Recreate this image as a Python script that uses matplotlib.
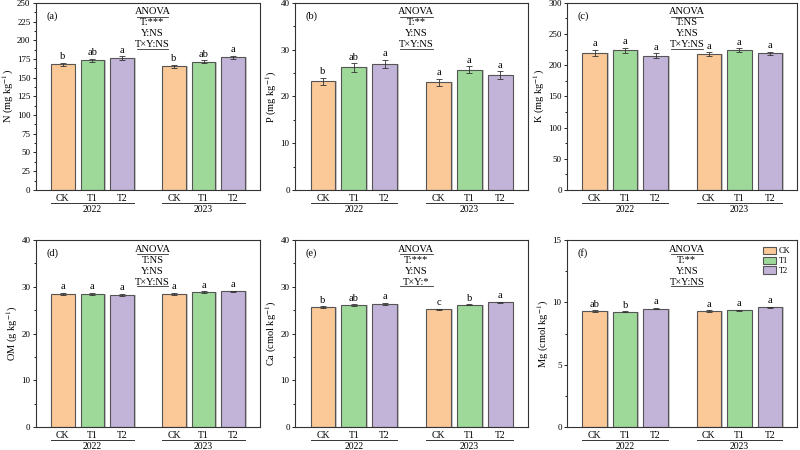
import numpy as np
import matplotlib.pyplot as plt
from matplotlib.lines import Line2D
import matplotlib.transforms as mtrans

plt.rcParams['font.family'] = ['Liberation Serif', 'DejaVu Serif']
plt.rcParams['mathtext.fontset'] = 'stix'

treatments = ['CK', 'T1', 'T2']
years = ['2022', '2023']
colors = ['#FBC898', '#9ED99A', '#C2B3D9']

panels = ['(a)', '(b)', '(c)', '(d)', '(e)', '(f)']
ylabels = ['N (mg kg$^{-1}$)', 'P (mg kg$^{-1}$)', 'K (mg kg$^{-1}$)',
           'OM (g kg$^{-1}$)', 'Ca (cmol kg$^{-1}$)', 'Mg (cmol kg$^{-1}$)']
ymax = [250, 40, 300, 40, 40, 15]
ystep = [25, 10, 50, 10, 10, 5]

# means: [CK, T1, T2] for 2022 then 2023
N_vals = [168, 173.5, 176, 165, 171, 177]
N_err = [2, 2, 2.5, 2.5, 2, 2.5]
P_vals = [23.2, 26.2, 26.9, 23.0, 25.7, 24.6]
P_err = [0.8, 0.9, 0.9, 0.8, 0.8, 0.8]
K_vals = [220, 224, 215, 218, 224, 219]
K_err = [5, 4, 4, 3, 3, 3]
OM_vals = [28.5, 28.5, 28.3, 28.5, 28.8, 29.0]
OM_err = [0.2, 0.2, 0.2, 0.2, 0.2, 0.2]
Ca_vals = [25.6, 26.1, 26.4, 25.2, 26.2, 26.7]
Ca_err = [0.2, 0.15, 0.2, 0.15, 0.1, 0.15]
Mg_vals = [9.3, 9.25, 9.5, 9.3, 9.35, 9.6]
Mg_err = [0.06, 0.05, 0.05, 0.05, 0.06, 0.05]

values = [N_vals, P_vals, K_vals, OM_vals, Ca_vals, Mg_vals]
errors = [N_err, P_err, K_err, OM_err, Ca_err, Mg_err]

letters = [['b', 'ab', 'a', 'b', 'ab', 'a'],
           ['b', 'ab', 'a', 'a', 'a', 'a'],
           ['a', 'a', 'a', 'a', 'a', 'a'],
           ['a', 'a', 'a', 'a', 'a', 'a'],
           ['b', 'ab', 'a', 'c', 'b', 'a'],
           ['ab', 'b', 'a', 'a', 'a', 'a']]

anova = [['T:***', 'Y:NS', 'T×Y:NS'],
         ['T:**', 'Y:NS', 'T×Y:NS'],
         ['T:NS', 'Y:NS', 'T×Y:NS'],
         ['T:NS', 'Y:NS', 'T×Y:NS'],
         ['T:***', 'Y:NS', 'T×Y:*'],
         ['T:**', 'Y:NS', 'T×Y:NS']]

x = np.array([1, 2, 3, 4.75, 5.75, 6.75])
w = 0.8

fig = plt.figure(figsize=(8, 4.5), dpi=100)
lefts = [0.045, 0.369, 0.709]
widths = [0.28, 0.291, 0.2875]
bottoms = [0.578, 0.051]
h = 0.4156

for i in range(6):
    r, c = divmod(i, 3)
    ax = fig.add_axes([lefts[c], bottoms[r], widths[c], h])
    vals = values[i]
    errs = errors[i]
    cols = colors * 2
    # light grey shadow behind each bar
    ax.bar(x + 0.06, vals, w, color='#c8c8c8', zorder=1)
    bars = ax.bar(x, vals, w, color=cols, edgecolor='#555555', linewidth=0.8, zorder=2)
    ax.errorbar(x, vals, yerr=errs, fmt='none', ecolor='#333333', elinewidth=0.6,
                capsize=2, capthick=0.6, zorder=3)
    for xi, v, e, l in zip(x, vals, errs, letters[i]):
        ax.text(xi, v + e + ymax[i] * 0.008, l, ha='center', va='bottom', fontsize=7.5)

    ax.set_xlim(0.1, 7.65)
    ax.set_ylim(0, ymax[i])
    ax.set_yticks(np.arange(0, ymax[i] + 0.1, ystep[i]))
    ax.set_yticks(np.arange(ystep[i] / 2, ymax[i], ystep[i]), minor=True)
    ax.set_xticks(x)
    ax.set_xticklabels(treatments * 2)
    ax.tick_params(axis='x', length=0, labelsize=7, pad=3)
    ax.tick_params(axis='y', which='major', length=2.5, width=0.6, labelsize=6.5, pad=1.5)
    ax.tick_params(axis='y', which='minor', length=1.5, width=0.6)
    ax.set_ylabel(ylabels[i], fontsize=7.5, labelpad=1)
    for s in ax.spines.values():
        s.set_linewidth(0.8)
        s.set_color('#333333')

    ax.text(0.045, 0.93, panels[i], transform=ax.transAxes, fontsize=7.5, va='center')

    # ANOVA block
    cx = 0.52
    ax.text(cx, 0.952, 'ANOVA', transform=ax.transAxes, ha='center', va='center', fontsize=7.5)
    for k, t in enumerate(anova[i]):
        ax.text(cx, 0.893 - 0.059 * k, t, transform=ax.transAxes, ha='center', va='center', fontsize=7.5)
    for yy in [0.925, 0.752]:
        ax.add_line(Line2D([cx - 0.07, cx + 0.07], [yy, yy], transform=ax.transAxes,
                           color='#333333', linewidth=0.6))

    # year group labels
    trans = mtrans.blended_transform_factory(ax.transData, ax.transAxes)
    for g, yr in enumerate(years):
        x0 = x[g * 3] - w / 2
        x1 = x[g * 3 + 2] + w / 2
        ax.add_line(Line2D([x0, x1], [-0.07, -0.07], transform=trans, color='#333333',
                           linewidth=0.7, clip_on=False))
        ax.text((x0 + x1) / 2, -0.105, yr, transform=trans, ha='center', va='center', fontsize=7)

    if i == 5:
        ax.legend(bars[:3], treatments, loc='upper right', fontsize=6, frameon=False,
                  handlelength=1.6, handleheight=1.0, handletextpad=0.3, labelspacing=0.15,
                  borderaxespad=0.4)

plt.savefig('out.png', dpi=100)
